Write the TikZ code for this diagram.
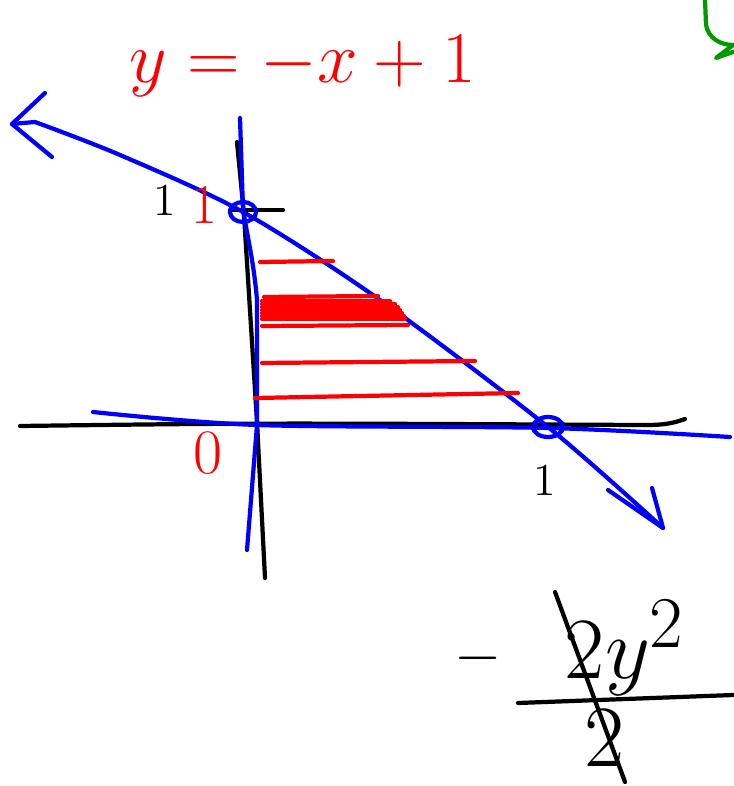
\documentclass[tikz,border=0pt]{standalone}
\usetikzlibrary{calc}
\tikzstyle{every node}=[font=\small]
\tikzstyle{every path}=[line width=1.2pt,line cap=round,line join=round]

\begin{document}
\begin{tikzpicture}[x=0.01cm,y=-0.01cm]
		\tikzstyle{ink} = [black]
		\tikzstyle{bluepen} = [blue]
		\tikzstyle{hatch} = [red]
		\tikzstyle{redlabel} = [red,inner sep=0pt,font=\fontsize{16}{18}\selectfont]
		\tikzstyle{inklabel} = [black,inner sep=0pt,font=\fontsize{13}{15}\selectfont]
		\tikzstyle{bigink} = [black,inner sep=0pt,font=\fontsize{32}{36}\selectfont]
		
		\fill[white] (0,0) rectangle (733,786);
		\useasboundingbox (0,0) rectangle (733,786);
		
		% axes in black
		\coordinate (xaxL) at (20,426);
		\coordinate (xaxM) at (257,423);
		\coordinate (xaxR) at (640,425);
		\coordinate (xaxE) at (685,419);
		\coordinate (yaxT) at (237,142);
		\coordinate (yaxO) at (257,422);
		\coordinate (yaxB) at (265,578);
		\draw[ink] (xaxL) .. controls (xaxM) .. (xaxR) to[out=0,in=200] (xaxE);
		\draw[ink] (yaxT) -- (244,215) -- (yaxO) -- (yaxB);
		\draw[ink] (230,210) -- (283,210);
		
		% blue axes
		\coordinate (byT) at (240,118);
		\coordinate (byO) at (257,425);
		\coordinate (byB) at (247,550);
		\coordinate (bxL) at (93,412);
		\coordinate (bxR) at (730,437);
		\draw[bluepen] (byT) -- (243,210) to[out=-80,in=95] (257,300) -- (byO) -- (byB);
		\draw[bluepen] plot[smooth] coordinates {(bxL) (byO) (549,428) (bxR)};
		
		% the line y=-x+1
		\coordinate (tipL) at (12,124);
		\coordinate (lineL) at (35,122);
		\coordinate (yint) at (243,212);
		\coordinate (xint) at (548,427);
		\coordinate (tipR) at (663,528);
		\draw[bluepen] plot[smooth] coordinates {(lineL) (120,155) (yint) (380,300) (xint) (tipR)};
		\draw[bluepen] (45,93) -- (tipL) -- (52,157);
		\draw[bluepen] (tipL) -- (lineL);
		\draw[bluepen] (608,490) -- (tipR) -- (652,488);
		\draw[bluepen] (yint) ellipse [x radius=0.13cm, y radius=0.10cm];
		\draw[bluepen] (xint) ellipse [x radius=0.15cm, y radius=0.10cm];
		
		% shading strips
		\draw[hatch] (260,262) -- (333,261);
		\draw[hatch] (264,297) -- (378,296);
		\foreach \yy/\xe in {301/390,304/395,307/398,310/400,313/402,316/404,319/405} {
			\draw[hatch] (262,\yy) -- (\xe,\yy);
		}
		\draw[hatch] (262,326) -- (408,325);
		\draw[hatch] (262,363) -- (475,361);
		\draw[hatch] (255,398) -- (518,393);
		
		% labels
		\node[inklabel] (oneY) at (165,200) {1};
		\node[redlabel] (oneRed) at (204,205) {1};
		\node[redlabel,font=\fontsize{18}{20}\selectfont] (zero) at (208,453) {0};
		\node[inklabel] (oneX) at (545,480) {1};
		\node[red,inner sep=0pt,font=\fontsize{21}{24}\selectfont] (eqn) at (303,66) {$y = -x + 1$};
		
		% bottom work
		\node[bigink,font=\fontsize{18}{20}\selectfont] (minus) at (478,658) {$-$};
		\node[bigink] (num) at (625,648) {$2y^2$};
		\node[bigink,font=\fontsize{26}{30}\selectfont] (den) at (605,738) {$2$};
		\coordinate (barL) at (518,703);
		\coordinate (barR) at (733,695);
		\draw[ink] (barL) -- (barR);
		\draw[ink] (555,592) -- (625,782);
		
		% green fragment
		\draw[green!60!black] (705,0) -- (706,25) to[out=-80,in=180] (733,45);
		\draw[green!60!black] (733,45) -- (716,58) -- (733,52);
		
	\end{tikzpicture}
\end{document}
